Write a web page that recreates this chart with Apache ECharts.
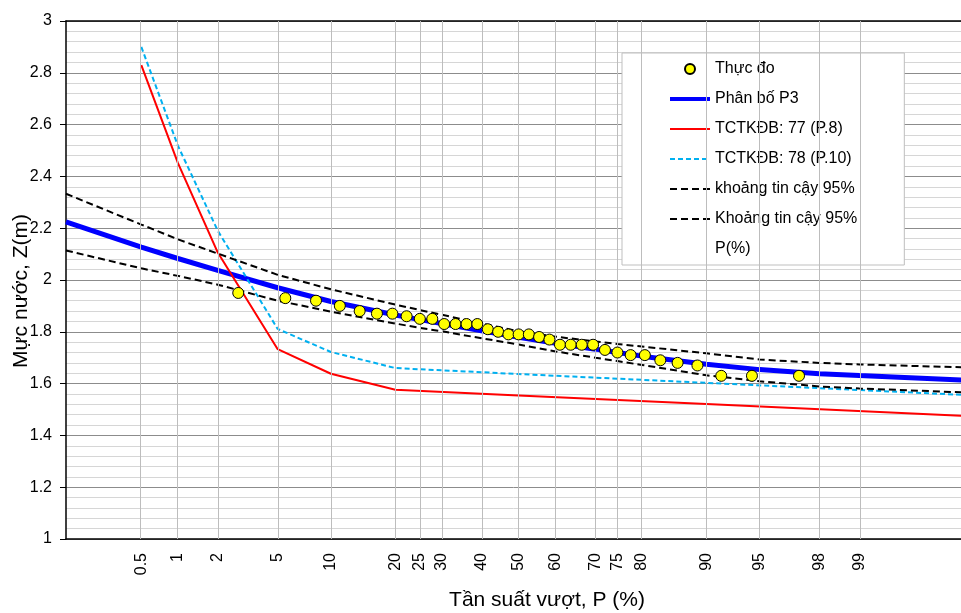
<!DOCTYPE html>
<html>
<head>
<meta charset="utf-8">
<script src="https://cdn.jsdelivr.net/npm/echarts@6/dist/echarts.min.js"></script>
<style>
html,body{margin:0;padding:0;background:#fff;}
#chart{width:961px;height:613px;}
</style>
</head>
<body>
<div id="chart"></div>
<script>
// ---- data ----
const tickLabels = ['0.5','1','2','5','10','20','25','30','40','50','60','70','75','80','90','95','98','99'];
const tickP = [0.5, 1, 2, 5, 10, 20, 25, 30, 40, 50, 60, 70, 75, 80, 90, 95, 98, 99];

const obsP = [2.78, 5.56, 8.33, 11.11, 13.89, 16.67, 19.44, 22.22, 25.00, 27.78, 30.56, 33.33, 36.11, 38.89, 41.67, 44.44, 47.22, 50.00, 52.78, 55.56, 58.33, 61.11, 63.89, 66.67, 69.44, 72.22, 75.00, 77.78, 80.56, 83.33, 86.11, 88.89, 91.67, 94.44, 97.22];
const obsZ = [1.95, 1.93, 1.92, 1.90, 1.88, 1.87, 1.87, 1.86, 1.85, 1.85, 1.83, 1.83, 1.83, 1.83, 1.81, 1.80, 1.79, 1.79, 1.79, 1.78, 1.77, 1.75, 1.75, 1.75, 1.75, 1.73, 1.72, 1.71, 1.71, 1.69, 1.68, 1.67, 1.63, 1.63, 1.63];

const curveP  = [0.1, 0.5, 1, 2, 5, 10, 20, 25, 30, 40, 50, 60, 70, 75, 80, 90, 95, 98, 99, 99.9];
const p3Z     = [2.224, 2.127, 2.083, 2.037, 1.970, 1.917, 1.865, 1.847, 1.832, 1.804, 1.779, 1.756, 1.733, 1.720, 1.706, 1.675, 1.654, 1.638, 1.631, 1.612];
const ciUpper = [2.333, 2.214, 2.157, 2.102, 2.020, 1.964, 1.905, 1.884, 1.866, 1.832, 1.802, 1.781, 1.763, 1.753, 1.743, 1.717, 1.693, 1.680, 1.674, 1.662];
const ciLower = [2.114, 2.045, 2.016, 1.982, 1.920, 1.878, 1.832, 1.815, 1.802, 1.775, 1.751, 1.724, 1.700, 1.687, 1.672, 1.632, 1.609, 1.589, 1.581, 1.565];

const p8P  = [0.5, 1, 2, 5, 10, 20, 50, 90, 99.9];
const p8Z  = [2.830, 2.452, 2.106, 1.733, 1.638, 1.576, 1.554, 1.521, 1.474];
const p10P = [0.5, 1, 2, 5, 10, 20, 50, 90, 99.9];
const p10Z = [2.900, 2.519, 2.190, 1.811, 1.722, 1.660, 1.637, 1.603, 1.555];

// ---- probability-paper transform (inverse normal CDF) ----
function probit(p) {
  const a=[-3.969683028665376e+01,2.209460984245205e+02,-2.759285104469687e+02,1.383577518672690e+02,-3.066479806614716e+01,2.506628277459239e+00];
  const b=[-5.447609879822406e+01,1.615858368580409e+02,-1.556989798598866e+02,6.680131188771972e+01,-1.328068155288572e+01];
  const c=[-7.784894002430293e-03,-3.223964580411365e-01,-2.400758277161838e+00,-2.549671348201094e+00,4.374664141464968e+00,2.938163982698783e+00];
  const d=[7.784695709041462e-03,3.224671290700398e-01,2.445134137142996e+00,3.754408661907416e+00];
  const pl=0.02425, ph=1-pl;
  let q, r;
  if (p < pl) {
    q = Math.sqrt(-2*Math.log(p));
    return (((((c[0]*q+c[1])*q+c[2])*q+c[3])*q+c[4])*q+c[5])/((((d[0]*q+d[1])*q+d[2])*q+d[3])*q+1);
  }
  if (p > ph) {
    q = Math.sqrt(-2*Math.log(1-p));
    return -(((((c[0]*q+c[1])*q+c[2])*q+c[3])*q+c[4])*q+c[5])/((((d[0]*q+d[1])*q+d[2])*q+d[3])*q+1);
  }
  q = p-0.5; r = q*q;
  return (((((a[0]*r+a[1])*r+a[2])*r+a[3])*r+a[4])*r+a[5])*q/(((((b[0]*r+b[1])*r+b[2])*r+b[3])*r+b[4])*r+1);
}
const X = p => probit(p/100);
const pairs = (ps, zs) => ps.map((p, i) => [X(p), zs[i]]);
const tickX = tickP.map(X);

const FONT = 'Liberation Sans, Arial, sans-serif';
const chart = echarts.init(document.getElementById('chart'), null, {renderer: 'canvas'});

const noSym = {opacity: 0};
const option = {
  animation: false,
  textStyle: {fontFamily: FONT, color: '#000'},
  grid: {left: 66, right: 0, top: 21, bottom: 74, containLabel: false},
  xAxis: [{
    type: 'value', min: -3.09, max: 3.02, position: 'bottom',
    axisLine: {show: true, onZero: false, lineStyle: {color: '#000', width: 1.5}},
    axisTick: {show: false},
    splitLine: {show: false},
    axisLabel: {
      customValues: tickX, rotate: 90, margin: 14, fontSize: 16, color: '#000', fontFamily: FONT,
      formatter: v => { for (let i = 0; i < tickX.length; i++) if (Math.abs(tickX[i]-v) < 1e-6) return tickLabels[i]; return ''; }
    }
  }, {
    type: 'value', min: -3.09, max: 3.02, position: 'top',
    axisLine: {show: true, onZero: false, lineStyle: {color: '#000', width: 1.5}},
    axisTick: {show: false}, axisLabel: {show: false}, splitLine: {show: false}
  }],
  yAxis: {
    type: 'value', min: 1, max: 3, interval: 0.2,
    axisLine: {show: true, onZero: false, lineStyle: {color: '#000', width: 1.5}},
    axisTick: {show: true, length: 6, lineStyle: {color: '#000'}},
    axisLabel: {fontSize: 16, margin: 14, color: '#000', fontFamily: FONT, formatter: v => String(+v.toFixed(1))},
    splitLine: {show: true, lineStyle: {color: '#8c8c8c', width: 1}},
    minorTick: {show: false, splitNumber: 5},
    minorSplitLine: {show: true, lineStyle: {color: '#d6d6d6', width: 1}}
  },
  legend: {
    orient: 'vertical', left: 622, top: 53,
    padding: [6, 47, 6, 46],
    backgroundColor: '#fff', borderColor: '#bfbfbf', borderWidth: 1,
    itemWidth: 40, itemHeight: 10, itemGap: 10,
    selectedMode: false,
    textStyle: {fontSize: 16, lineHeight: 20, color: '#000', fontFamily: FONT},
    data: [
      {name: 'Thực đo'},
      {name: 'Phân bố P3', itemStyle: noSym, lineStyle: {width: 4}},
      {name: 'TCTKĐB: 77 (P.8)', itemStyle: noSym, lineStyle: {width: 2}},
      {name: 'TCTKĐB: 78 (P.10)', itemStyle: noSym, lineStyle: {width: 2}},
      {name: 'khoảng tin cậy 95%', itemStyle: noSym, lineStyle: {width: 2}},
      {name: 'Khoảng tin cậy 95%', itemStyle: noSym, lineStyle: {width: 2}},
      {name: 'P(%)', itemStyle: noSym, lineStyle: {opacity: 0}}
    ]
  },
  graphic: [
    {type: 'text', x: 21, y: 291, rotation: Math.PI/2,
     style: {text: 'Mực nước, Z(m)', fontSize: 21, fontFamily: FONT, fill: '#000', align: 'center', verticalAlign: 'middle'}},
    {type: 'text', x: 547, y: 600,
     style: {text: 'Tần suất vượt, P (%)', fontSize: 21, fontFamily: FONT, fill: '#000', align: 'center', verticalAlign: 'middle'}}
  ],
  series: [
    {
      name: 'P(%)', type: 'line', z: 1, symbol: 'none', silent: true,
      lineStyle: {opacity: 0}, itemStyle: {opacity: 0},
      data: tickX.map(x => [x, 1]),
      markLine: {
        silent: true, symbol: ['none', 'none'], label: {show: false},
        lineStyle: {color: '#bdbdbd', width: 1, type: 'solid'},
        emphasis: {disabled: true},
        data: tickX.map(x => ({xAxis: x}))
      }
    },
    {
      name: 'Phân bố P3', type: 'line', symbol: 'none',
      lineStyle: {color: '#0000FF', width: 5}, itemStyle: {color: '#0000FF'},
      data: pairs(curveP, p3Z)
    },
    {
      name: 'TCTKĐB: 77 (P.8)', type: 'line', symbol: 'none',
      lineStyle: {color: '#FF0000', width: 2}, itemStyle: {color: '#FF0000'},
      data: pairs(p8P, p8Z)
    },
    {
      name: 'TCTKĐB: 78 (P.10)', type: 'line', symbol: 'none',
      lineStyle: {color: '#00B0F0', width: 2, type: [5, 3]}, itemStyle: {color: '#00B0F0'},
      data: pairs(p10P, p10Z)
    },
    {
      name: 'khoảng tin cậy 95%', type: 'line', symbol: 'none',
      lineStyle: {color: '#000', width: 2, type: [7, 4]}, itemStyle: {color: '#000'},
      data: pairs(curveP, ciUpper)
    },
    {
      name: 'Khoảng tin cậy 95%', type: 'line', symbol: 'none',
      lineStyle: {color: '#000', width: 2, type: [7, 4]}, itemStyle: {color: '#000'},
      data: pairs(curveP, ciLower)
    },
    {
      name: 'Thực đo', type: 'scatter', symbol: 'circle', symbolSize: 11, z: 5,
      itemStyle: {color: '#FFFF00', borderColor: '#000', borderWidth: 1, opacity: 1},
      data: pairs(obsP, obsZ)
    }
  ]
};
chart.setOption(option);
</script>
</body>
</html>
